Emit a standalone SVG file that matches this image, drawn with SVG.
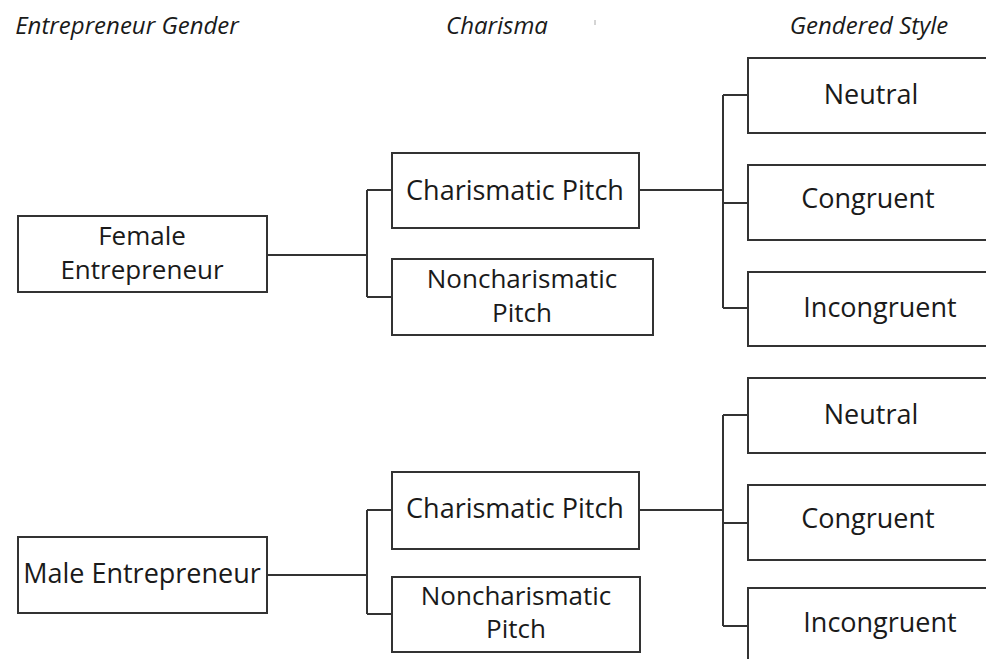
<svg xmlns="http://www.w3.org/2000/svg" width="986" height="659" viewBox="0 0 986 659">
<style>
.box{fill:#fff;stroke:#333;stroke-width:2}
.t{font-family:"Open Sans","Noto Sans",sans-serif;font-size:27px;fill:#1a1a1a;text-anchor:middle}
.t2{font-family:"Open Sans","Noto Sans",sans-serif;font-size:26px;fill:#1a1a1a;text-anchor:middle}
.h{font-family:"Open Sans","Noto Sans",sans-serif;font-size:24px;font-style:italic;fill:#1a1a1a;text-anchor:middle}
.c{fill:none;stroke:#333;stroke-width:2}
</style>
<rect width="986" height="659" fill="#fff"/>
<g id="headers">
<text class="h" x="127" y="34">Entrepreneur Gender</text>
<text class="h" x="497" y="34">Charisma</text>
<text class="h" x="869" y="34">Gendered Style</text>
<line x1="595" y1="20" x2="595" y2="25" stroke="#aaa" stroke-width="1"/>
</g>
<g id="connectors">
<path class="c" d="M267 255H367M367 190V297M367 190H392M367 297H392"/>
<path class="c" d="M639 190H723M723 95V308M723 95H748M723 203H748M723 308H748"/>
<path class="c" d="M267 575H367M367 510V614M367 510H392M367 614H392"/>
<path class="c" d="M639 510H723M723 415V626M723 415H748M723 523H748M723 626H748"/>
</g>
<g id="female">
<rect class="box" x="18" y="216" width="249" height="76"/>
<text class="t2" x="142" y="245">Female</text>
<text class="t2" x="142" y="279">Entrepreneur</text>
</g>
<g id="f-charismatic">
<rect class="box" x="392" y="153" width="247" height="75"/>
<text class="t" x="515" y="200">Charismatic Pitch</text>
</g>
<g id="f-noncharismatic">
<rect class="box" x="392" y="259" width="261" height="76"/>
<text class="t2" x="522" y="288">Noncharismatic</text>
<text class="t2" x="522" y="322">Pitch</text>
</g>
<g id="f-neutral">
<rect class="box" x="748" y="58" width="250" height="75"/>
<text class="t" x="871" y="104">Neutral</text>
</g>
<g id="f-congruent">
<rect class="box" x="748" y="165" width="250" height="75"/>
<text class="t" x="868" y="208">Congruent</text>
</g>
<g id="f-incongruent">
<rect class="box" x="748" y="272" width="250" height="74"/>
<text class="t" x="880" y="317">Incongruent</text>
</g>
<g id="male">
<rect class="box" x="18" y="537" width="249" height="76"/>
<text class="t" x="142" y="583">Male Entrepreneur</text>
</g>
<g id="m-charismatic">
<rect class="box" x="392" y="472" width="247" height="77"/>
<text class="t" x="515" y="518">Charismatic Pitch</text>
</g>
<g id="m-noncharismatic">
<rect class="box" x="392" y="577" width="248" height="75"/>
<text class="t2" x="516" y="605">Noncharismatic</text>
<text class="t2" x="516" y="638">Pitch</text>
</g>
<g id="m-neutral">
<rect class="box" x="748" y="378" width="250" height="75"/>
<text class="t" x="871" y="424">Neutral</text>
</g>
<g id="m-congruent">
<rect class="box" x="748" y="485" width="250" height="75"/>
<text class="t" x="868" y="528">Congruent</text>
</g>
<g id="m-incongruent">
<rect class="box" x="748" y="588" width="250" height="80"/>
<text class="t" x="880" y="632">Incongruent</text>
</g>
</svg>
